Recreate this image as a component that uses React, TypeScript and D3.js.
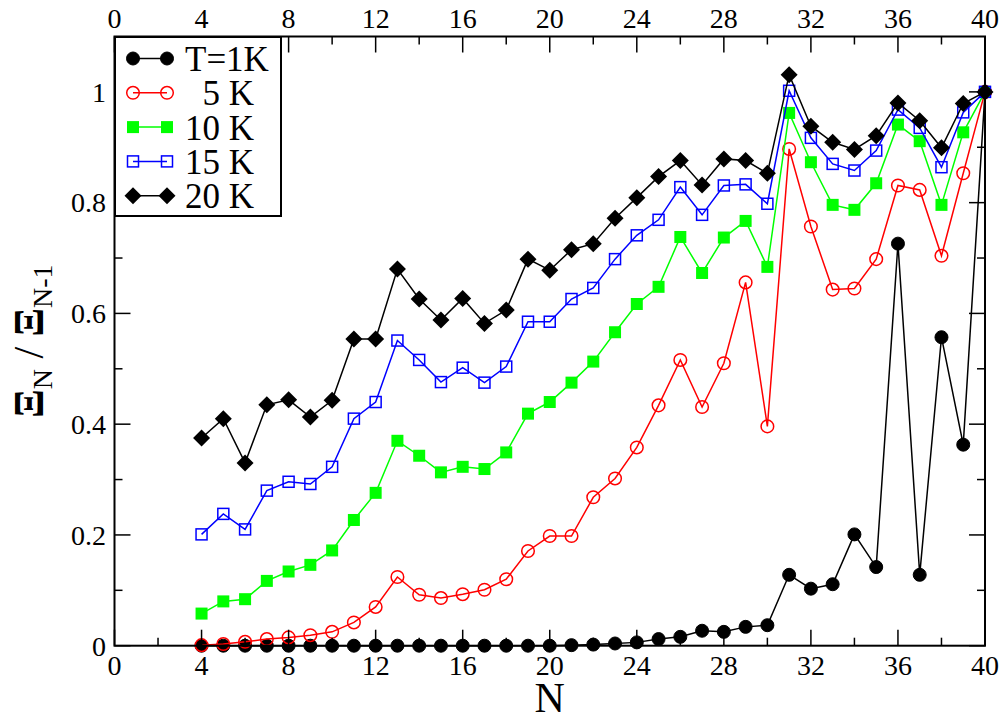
import React from "react";
import * as d3 from "d3";

const Ns = d3.range(4, 41);

const T1K = [0, 0, 0, 0, 0, 0, 0, 0, 0, 0, 0, 0, 0, 0, 0, 0, 0, 0.001, 0.002, 0.004, 0.006, 0.012, 0.016, 0.027, 0.025, 0.034, 0.037, 0.128, 0.103, 0.111, 0.201, 0.142, 0.726, 0.128, 0.557, 0.363, 1.0];
const T5K = [0.001, 0.003, 0.007, 0.012, 0.015, 0.019, 0.025, 0.042, 0.070, 0.124, 0.092, 0.086, 0.093, 0.101, 0.120, 0.171, 0.198, 0.198, 0.268, 0.302, 0.358, 0.434, 0.516, 0.431, 0.510, 0.656, 0.396, 0.897, 0.757, 0.643, 0.645, 0.698, 0.831, 0.823, 0.704, 0.853, 1.0];
const T10K = [0.058, 0.080, 0.084, 0.117, 0.134, 0.146, 0.172, 0.227, 0.276, 0.370, 0.343, 0.313, 0.323, 0.319, 0.349, 0.419, 0.440, 0.475, 0.513, 0.566, 0.617, 0.648, 0.738, 0.673, 0.737, 0.767, 0.684, 0.962, 0.873, 0.796, 0.787, 0.835, 0.941, 0.911, 0.796, 0.927, 1.0];
const T15K = [0.201, 0.238, 0.210, 0.280, 0.296, 0.292, 0.323, 0.410, 0.440, 0.551, 0.516, 0.476, 0.502, 0.475, 0.504, 0.585, 0.585, 0.626, 0.646, 0.698, 0.741, 0.769, 0.828, 0.778, 0.831, 0.833, 0.798, 1.002, 0.917, 0.870, 0.858, 0.894, 0.968, 0.935, 0.864, 0.963, 1.0];
const T20K = [0.375, 0.410, 0.330, 0.435, 0.444, 0.413, 0.443, 0.554, 0.554, 0.680, 0.626, 0.588, 0.627, 0.582, 0.606, 0.698, 0.678, 0.715, 0.726, 0.772, 0.809, 0.847, 0.876, 0.832, 0.879, 0.876, 0.853, 1.031, 0.938, 0.909, 0.896, 0.921, 0.980, 0.948, 0.899, 0.979, 1.0];

const legendLabels = ["T=1K", "  5 K", "10 K", "15 K", "20 K"];
const xTicks = d3.range(0, 41, 4);
const xMinor = d3.range(2, 40, 4);
const yTicks = [0, 0.2, 0.4, 0.6, 0.8, 1];
const yMinor = [0.1, 0.3, 0.5, 0.7, 0.9];

type Sym = "fcircle" | "ocircle" | "fsquare" | "osquare" | "diamond";
const series: { vals: number[]; color: string; sym: Sym }[] = [
  { vals: T1K, color: "#000000", sym: "fcircle" },
  { vals: T5K, color: "#ff0000", sym: "ocircle" },
  { vals: T10K, color: "#00ff00", sym: "fsquare" },
  { vals: T15K, color: "#0000ff", sym: "osquare" },
  { vals: T20K, color: "#000000", sym: "diamond" },
];

const L = 114.5, R = 985, T = 36.5, B = 645.7;
const x = d3.scaleLinear().domain([0, 40]).range([L, R]);
const y = d3.scaleLinear().domain([0, 1.1]).range([B, T]);
const FONT = "'Liberation Serif', 'Times New Roman', serif";

function Marker({ sym, color, cx, cy }: { sym: Sym; color: string; cx: number; cy: number }) {
  switch (sym) {
    case "fcircle":
      return <circle cx={cx} cy={cy} r={6.5} fill={color} stroke={color} strokeWidth={1} />;
    case "ocircle":
      return <circle cx={cx} cy={cy} r={6.3} fill="none" stroke={color} strokeWidth={1.5} />;
    case "fsquare":
      return <rect x={cx - 6} y={cy - 6} width={12} height={12} fill={color} />;
    case "osquare":
      return <rect x={cx - 5.5} y={cy - 5.5} width={11} height={11} fill="none" stroke={color} strokeWidth={1.5} />;
    case "diamond":
      return <path d={`M${cx},${cy - 8.5}L${cx + 8.5},${cy}L${cx},${cy + 8.5}L${cx - 8.5},${cy}Z`} fill={color} />;
  }
}

export default function App() {
  const line = d3.line<number>().x((_, i) => x(Ns[i])).y((v) => y(v));
  return (
    <svg width={1004} height={721} style={{ position: "absolute", left: 0, top: 0, background: "#fff" }} fontFamily={FONT}>
      <rect x={0} y={0} width={1004} height={721} fill="#fff" />
      {/* series */}
      {series.map((s, si) => (
        <g key={si}>
          <path d={line(s.vals) || ""} fill="none" stroke={s.color} strokeWidth={1.5} />
          {s.vals.map((v, i) => (
            <Marker key={i} sym={s.sym} color={s.color} cx={x(Ns[i])} cy={y(v)} />
          ))}
        </g>
      ))}
      {/* frame */}
      <rect x={L} y={T} width={R - L} height={B - T} fill="none" stroke="#000" strokeWidth={2} />
      {/* x ticks */}
      {xTicks.map((t) => (
        <g key={"xt" + t}>
          <line x1={x(t)} x2={x(t)} y1={B} y2={B - 16} stroke="#000" strokeWidth={1.5} />
          <line x1={x(t)} x2={x(t)} y1={T} y2={T + 16} stroke="#000" strokeWidth={1.5} />
          <text x={x(t)} y={675} textAnchor="middle" fontSize={28}>{t}</text>
          <text x={x(t)} y={28} textAnchor="middle" fontSize={28}>{t}</text>
        </g>
      ))}
      {xMinor.map((t) => (
        <g key={"xm" + t}>
          <line x1={x(t)} x2={x(t)} y1={B} y2={B - 8} stroke="#000" strokeWidth={1.5} />
          <line x1={x(t)} x2={x(t)} y1={T} y2={T + 8} stroke="#000" strokeWidth={1.5} />
        </g>
      ))}
      {/* y ticks */}
      {yTicks.map((t) => (
        <g key={"yt" + t}>
          <line x1={L} x2={L + 16} y1={y(t)} y2={y(t)} stroke="#000" strokeWidth={1.5} />
          <line x1={R} x2={R - 16} y1={y(t)} y2={y(t)} stroke="#000" strokeWidth={1.5} />
          <text x={106} y={y(t)} dy="0.35em" textAnchor="end" fontSize={28}>{String(t)}</text>
        </g>
      ))}
      {yMinor.map((t) => (
        <g key={"ym" + t}>
          <line x1={L} x2={L + 8} y1={y(t)} y2={y(t)} stroke="#000" strokeWidth={1.5} />
          <line x1={R} x2={R - 8} y1={y(t)} y2={y(t)} stroke="#000" strokeWidth={1.5} />
        </g>
      ))}
      {/* axis labels */}
      <text x={(L + R) / 2} y={712} textAnchor="middle" fontSize={42}>N</text>
      <text transform={`translate(43,${(T + B) / 2}) rotate(-90)`} textAnchor="middle" fontSize={42}>
        <tspan fontWeight="bold">Ξ</tspan>
        <tspan fontSize={28} dy={9}>N</tspan>
        <tspan dy={-9}>{" / "}</tspan>
        <tspan fontWeight="bold">Ξ</tspan>
        <tspan fontSize={28} dy={9}>N-1</tspan>
      </text>
      {/* legend */}
      <rect x={115} y={37} width={166} height={179} fill="#fff" stroke="#000" strokeWidth={2} />
      {series.map((s, i) => {
        const ly = 58.5 + i * 34.3;
        return (
          <g key={"lg" + i}>
            <line x1={133} x2={167} y1={ly} y2={ly} stroke={s.color} strokeWidth={1.5} />
            <Marker sym={s.sym} color={s.color} cx={133} cy={ly} />
            <Marker sym={s.sym} color={s.color} cx={167} cy={ly} />
            <text x={185} y={ly} dy="0.36em" fontSize={35} style={{ whiteSpace: "pre" }}>{legendLabels[i]}</text>
          </g>
        );
      })}
    </svg>
  );
}
